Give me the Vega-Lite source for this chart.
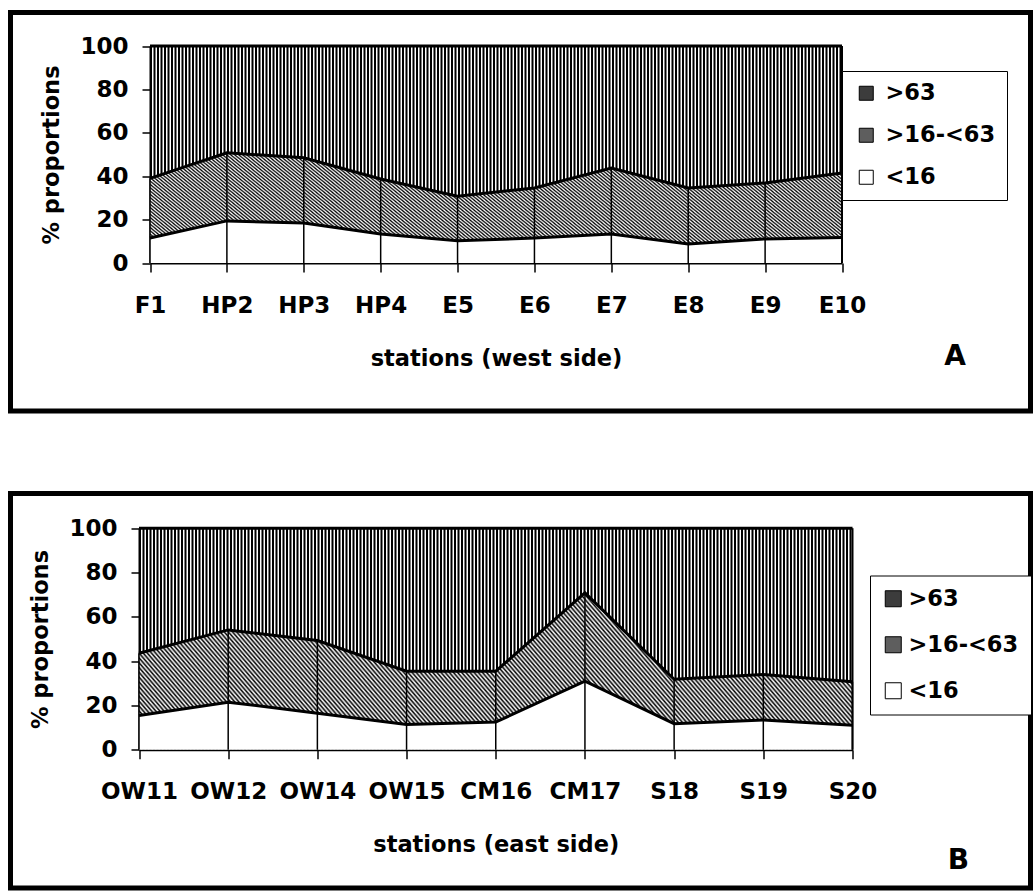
{
  "$schema": "https://vega.github.io/schema/vega-lite/v6.json",
  "background": "white",
  "padding": {"left": 7.5, "top": 9.5, "right": 0, "bottom": 0},
  "bounds": "flush",
  "spacing": 82,
  "resolve": {"scale": {"fill": "independent"}, "legend": {"fill": "independent"}},
  "params": [
    {
      "name": "hatch",
      "value": {
        "gradient": "linear", "x1": 0, "y1": 1, "x2": 1.1305, "y2": 0.8199,
        "stops": [
          {"offset":0,"color":"#000"},{"offset":0.0025,"color":"#fff"},{"offset":0.005,"color":"#000"},{"offset":0.0075,"color":"#fff"},
          {"offset":0.01,"color":"#000"},{"offset":0.0125,"color":"#fff"},{"offset":0.015,"color":"#000"},{"offset":0.0175,"color":"#fff"},
          {"offset":0.02,"color":"#000"},{"offset":0.0225,"color":"#fff"},{"offset":0.025,"color":"#000"},{"offset":0.0275,"color":"#fff"},
          {"offset":0.03,"color":"#000"},{"offset":0.0325,"color":"#fff"},{"offset":0.035,"color":"#000"},{"offset":0.0375,"color":"#fff"},
          {"offset":0.04,"color":"#000"},{"offset":0.0425,"color":"#fff"},{"offset":0.045,"color":"#000"},{"offset":0.0475,"color":"#fff"},
          {"offset":0.05,"color":"#000"},{"offset":0.0525,"color":"#fff"},{"offset":0.055,"color":"#000"},{"offset":0.0575,"color":"#fff"},
          {"offset":0.06,"color":"#000"},{"offset":0.0625,"color":"#fff"},{"offset":0.065,"color":"#000"},{"offset":0.0675,"color":"#fff"},
          {"offset":0.07,"color":"#000"},{"offset":0.0725,"color":"#fff"},{"offset":0.075,"color":"#000"},{"offset":0.0775,"color":"#fff"},
          {"offset":0.08,"color":"#000"},{"offset":0.0825,"color":"#fff"},{"offset":0.085,"color":"#000"},{"offset":0.0875,"color":"#fff"},
          {"offset":0.09,"color":"#000"},{"offset":0.0925,"color":"#fff"},{"offset":0.095,"color":"#000"},{"offset":0.0975,"color":"#fff"},
          {"offset":0.1,"color":"#000"},{"offset":0.1025,"color":"#fff"},{"offset":0.105,"color":"#000"},{"offset":0.1075,"color":"#fff"},
          {"offset":0.11,"color":"#000"},{"offset":0.1125,"color":"#fff"},{"offset":0.115,"color":"#000"},{"offset":0.1175,"color":"#fff"},
          {"offset":0.12,"color":"#000"},{"offset":0.1225,"color":"#fff"},{"offset":0.125,"color":"#000"},{"offset":0.1275,"color":"#fff"},
          {"offset":0.13,"color":"#000"},{"offset":0.1325,"color":"#fff"},{"offset":0.135,"color":"#000"},{"offset":0.1375,"color":"#fff"},
          {"offset":0.14,"color":"#000"},{"offset":0.1425,"color":"#fff"},{"offset":0.145,"color":"#000"},{"offset":0.1475,"color":"#fff"},
          {"offset":0.15,"color":"#000"},{"offset":0.1525,"color":"#fff"},{"offset":0.155,"color":"#000"},{"offset":0.1575,"color":"#fff"},
          {"offset":0.16,"color":"#000"},{"offset":0.1625,"color":"#fff"},{"offset":0.165,"color":"#000"},{"offset":0.1675,"color":"#fff"},
          {"offset":0.17,"color":"#000"},{"offset":0.1725,"color":"#fff"},{"offset":0.175,"color":"#000"},{"offset":0.1775,"color":"#fff"},
          {"offset":0.18,"color":"#000"},{"offset":0.1825,"color":"#fff"},{"offset":0.185,"color":"#000"},{"offset":0.1875,"color":"#fff"},
          {"offset":0.19,"color":"#000"},{"offset":0.1925,"color":"#fff"},{"offset":0.195,"color":"#000"},{"offset":0.1975,"color":"#fff"},
          {"offset":0.2,"color":"#000"},{"offset":0.2025,"color":"#fff"},{"offset":0.205,"color":"#000"},{"offset":0.2075,"color":"#fff"},
          {"offset":0.21,"color":"#000"},{"offset":0.2125,"color":"#fff"},{"offset":0.215,"color":"#000"},{"offset":0.2175,"color":"#fff"},
          {"offset":0.22,"color":"#000"},{"offset":0.2225,"color":"#fff"},{"offset":0.225,"color":"#000"},{"offset":0.2275,"color":"#fff"},
          {"offset":0.23,"color":"#000"},{"offset":0.2325,"color":"#fff"},{"offset":0.235,"color":"#000"},{"offset":0.2375,"color":"#fff"},
          {"offset":0.24,"color":"#000"},{"offset":0.2425,"color":"#fff"},{"offset":0.245,"color":"#000"},{"offset":0.2475,"color":"#fff"},
          {"offset":0.25,"color":"#000"},{"offset":0.2525,"color":"#fff"},{"offset":0.255,"color":"#000"},{"offset":0.2575,"color":"#fff"},
          {"offset":0.26,"color":"#000"},{"offset":0.2625,"color":"#fff"},{"offset":0.265,"color":"#000"},{"offset":0.2675,"color":"#fff"},
          {"offset":0.27,"color":"#000"},{"offset":0.2725,"color":"#fff"},{"offset":0.275,"color":"#000"},{"offset":0.2775,"color":"#fff"},
          {"offset":0.28,"color":"#000"},{"offset":0.2825,"color":"#fff"},{"offset":0.285,"color":"#000"},{"offset":0.2875,"color":"#fff"},
          {"offset":0.29,"color":"#000"},{"offset":0.2925,"color":"#fff"},{"offset":0.295,"color":"#000"},{"offset":0.2975,"color":"#fff"},
          {"offset":0.3,"color":"#000"},{"offset":0.3025,"color":"#fff"},{"offset":0.305,"color":"#000"},{"offset":0.3075,"color":"#fff"},
          {"offset":0.31,"color":"#000"},{"offset":0.3125,"color":"#fff"},{"offset":0.315,"color":"#000"},{"offset":0.3175,"color":"#fff"},
          {"offset":0.32,"color":"#000"},{"offset":0.3225,"color":"#fff"},{"offset":0.325,"color":"#000"},{"offset":0.3275,"color":"#fff"},
          {"offset":0.33,"color":"#000"},{"offset":0.3325,"color":"#fff"},{"offset":0.335,"color":"#000"},{"offset":0.3375,"color":"#fff"},
          {"offset":0.34,"color":"#000"},{"offset":0.3425,"color":"#fff"},{"offset":0.345,"color":"#000"},{"offset":0.3475,"color":"#fff"},
          {"offset":0.35,"color":"#000"},{"offset":0.3525,"color":"#fff"},{"offset":0.355,"color":"#000"},{"offset":0.3575,"color":"#fff"},
          {"offset":0.36,"color":"#000"},{"offset":0.3625,"color":"#fff"},{"offset":0.365,"color":"#000"},{"offset":0.3675,"color":"#fff"},
          {"offset":0.37,"color":"#000"},{"offset":0.3725,"color":"#fff"},{"offset":0.375,"color":"#000"},{"offset":0.3775,"color":"#fff"},
          {"offset":0.38,"color":"#000"},{"offset":0.3825,"color":"#fff"},{"offset":0.385,"color":"#000"},{"offset":0.3875,"color":"#fff"},
          {"offset":0.39,"color":"#000"},{"offset":0.3925,"color":"#fff"},{"offset":0.395,"color":"#000"},{"offset":0.3975,"color":"#fff"},
          {"offset":0.4,"color":"#000"},{"offset":0.4025,"color":"#fff"},{"offset":0.405,"color":"#000"},{"offset":0.4075,"color":"#fff"},
          {"offset":0.41,"color":"#000"},{"offset":0.4125,"color":"#fff"},{"offset":0.415,"color":"#000"},{"offset":0.4175,"color":"#fff"},
          {"offset":0.42,"color":"#000"},{"offset":0.4225,"color":"#fff"},{"offset":0.425,"color":"#000"},{"offset":0.4275,"color":"#fff"},
          {"offset":0.43,"color":"#000"},{"offset":0.4325,"color":"#fff"},{"offset":0.435,"color":"#000"},{"offset":0.4375,"color":"#fff"},
          {"offset":0.44,"color":"#000"},{"offset":0.4425,"color":"#fff"},{"offset":0.445,"color":"#000"},{"offset":0.4475,"color":"#fff"},
          {"offset":0.45,"color":"#000"},{"offset":0.4525,"color":"#fff"},{"offset":0.455,"color":"#000"},{"offset":0.4575,"color":"#fff"},
          {"offset":0.46,"color":"#000"},{"offset":0.4625,"color":"#fff"},{"offset":0.465,"color":"#000"},{"offset":0.4675,"color":"#fff"},
          {"offset":0.47,"color":"#000"},{"offset":0.4725,"color":"#fff"},{"offset":0.475,"color":"#000"},{"offset":0.4775,"color":"#fff"},
          {"offset":0.48,"color":"#000"},{"offset":0.4825,"color":"#fff"},{"offset":0.485,"color":"#000"},{"offset":0.4875,"color":"#fff"},
          {"offset":0.49,"color":"#000"},{"offset":0.4925,"color":"#fff"},{"offset":0.495,"color":"#000"},{"offset":0.4975,"color":"#fff"},
          {"offset":0.5,"color":"#000"},{"offset":0.5025,"color":"#fff"},{"offset":0.505,"color":"#000"},{"offset":0.5075,"color":"#fff"},
          {"offset":0.51,"color":"#000"},{"offset":0.5125,"color":"#fff"},{"offset":0.515,"color":"#000"},{"offset":0.5175,"color":"#fff"},
          {"offset":0.52,"color":"#000"},{"offset":0.5225,"color":"#fff"},{"offset":0.525,"color":"#000"},{"offset":0.5275,"color":"#fff"},
          {"offset":0.53,"color":"#000"},{"offset":0.5325,"color":"#fff"},{"offset":0.535,"color":"#000"},{"offset":0.5375,"color":"#fff"},
          {"offset":0.54,"color":"#000"},{"offset":0.5425,"color":"#fff"},{"offset":0.545,"color":"#000"},{"offset":0.5475,"color":"#fff"},
          {"offset":0.55,"color":"#000"},{"offset":0.5525,"color":"#fff"},{"offset":0.555,"color":"#000"},{"offset":0.5575,"color":"#fff"},
          {"offset":0.56,"color":"#000"},{"offset":0.5625,"color":"#fff"},{"offset":0.565,"color":"#000"},{"offset":0.5675,"color":"#fff"},
          {"offset":0.57,"color":"#000"},{"offset":0.5725,"color":"#fff"},{"offset":0.575,"color":"#000"},{"offset":0.5775,"color":"#fff"},
          {"offset":0.58,"color":"#000"},{"offset":0.5825,"color":"#fff"},{"offset":0.585,"color":"#000"},{"offset":0.5875,"color":"#fff"},
          {"offset":0.59,"color":"#000"},{"offset":0.5925,"color":"#fff"},{"offset":0.595,"color":"#000"},{"offset":0.5975,"color":"#fff"},
          {"offset":0.6,"color":"#000"},{"offset":0.6025,"color":"#fff"},{"offset":0.605,"color":"#000"},{"offset":0.6075,"color":"#fff"},
          {"offset":0.61,"color":"#000"},{"offset":0.6125,"color":"#fff"},{"offset":0.615,"color":"#000"},{"offset":0.6175,"color":"#fff"},
          {"offset":0.62,"color":"#000"},{"offset":0.6225,"color":"#fff"},{"offset":0.625,"color":"#000"},{"offset":0.6275,"color":"#fff"},
          {"offset":0.63,"color":"#000"},{"offset":0.6325,"color":"#fff"},{"offset":0.635,"color":"#000"},{"offset":0.6375,"color":"#fff"},
          {"offset":0.64,"color":"#000"},{"offset":0.6425,"color":"#fff"},{"offset":0.645,"color":"#000"},{"offset":0.6475,"color":"#fff"},
          {"offset":0.65,"color":"#000"},{"offset":0.6525,"color":"#fff"},{"offset":0.655,"color":"#000"},{"offset":0.6575,"color":"#fff"},
          {"offset":0.66,"color":"#000"},{"offset":0.6625,"color":"#fff"},{"offset":0.665,"color":"#000"},{"offset":0.6675,"color":"#fff"},
          {"offset":0.67,"color":"#000"},{"offset":0.6725,"color":"#fff"},{"offset":0.675,"color":"#000"},{"offset":0.6775,"color":"#fff"},
          {"offset":0.68,"color":"#000"},{"offset":0.6825,"color":"#fff"},{"offset":0.685,"color":"#000"},{"offset":0.6875,"color":"#fff"},
          {"offset":0.69,"color":"#000"},{"offset":0.6925,"color":"#fff"},{"offset":0.695,"color":"#000"},{"offset":0.6975,"color":"#fff"},
          {"offset":0.7,"color":"#000"},{"offset":0.7025,"color":"#fff"},{"offset":0.705,"color":"#000"},{"offset":0.7075,"color":"#fff"},
          {"offset":0.71,"color":"#000"},{"offset":0.7125,"color":"#fff"},{"offset":0.715,"color":"#000"},{"offset":0.7175,"color":"#fff"},
          {"offset":0.72,"color":"#000"},{"offset":0.7225,"color":"#fff"},{"offset":0.725,"color":"#000"},{"offset":0.7275,"color":"#fff"},
          {"offset":0.73,"color":"#000"},{"offset":0.7325,"color":"#fff"},{"offset":0.735,"color":"#000"},{"offset":0.7375,"color":"#fff"},
          {"offset":0.74,"color":"#000"},{"offset":0.7425,"color":"#fff"},{"offset":0.745,"color":"#000"},{"offset":0.7475,"color":"#fff"},
          {"offset":0.75,"color":"#000"},{"offset":0.7525,"color":"#fff"},{"offset":0.755,"color":"#000"},{"offset":0.7575,"color":"#fff"},
          {"offset":0.76,"color":"#000"},{"offset":0.7625,"color":"#fff"},{"offset":0.765,"color":"#000"},{"offset":0.7675,"color":"#fff"},
          {"offset":0.77,"color":"#000"},{"offset":0.7725,"color":"#fff"},{"offset":0.775,"color":"#000"},{"offset":0.7775,"color":"#fff"},
          {"offset":0.78,"color":"#000"},{"offset":0.7825,"color":"#fff"},{"offset":0.785,"color":"#000"},{"offset":0.7875,"color":"#fff"},
          {"offset":0.79,"color":"#000"},{"offset":0.7925,"color":"#fff"},{"offset":0.795,"color":"#000"},{"offset":0.7975,"color":"#fff"},
          {"offset":0.8,"color":"#000"},{"offset":0.8025,"color":"#fff"},{"offset":0.805,"color":"#000"},{"offset":0.8075,"color":"#fff"},
          {"offset":0.81,"color":"#000"},{"offset":0.8125,"color":"#fff"},{"offset":0.815,"color":"#000"},{"offset":0.8175,"color":"#fff"},
          {"offset":0.82,"color":"#000"},{"offset":0.8225,"color":"#fff"},{"offset":0.825,"color":"#000"},{"offset":0.8275,"color":"#fff"},
          {"offset":0.83,"color":"#000"},{"offset":0.8325,"color":"#fff"},{"offset":0.835,"color":"#000"},{"offset":0.8375,"color":"#fff"},
          {"offset":0.84,"color":"#000"},{"offset":0.8425,"color":"#fff"},{"offset":0.845,"color":"#000"},{"offset":0.8475,"color":"#fff"},
          {"offset":0.85,"color":"#000"},{"offset":0.8525,"color":"#fff"},{"offset":0.855,"color":"#000"},{"offset":0.8575,"color":"#fff"},
          {"offset":0.86,"color":"#000"},{"offset":0.8625,"color":"#fff"},{"offset":0.865,"color":"#000"},{"offset":0.8675,"color":"#fff"},
          {"offset":0.87,"color":"#000"},{"offset":0.8725,"color":"#fff"},{"offset":0.875,"color":"#000"},{"offset":0.8775,"color":"#fff"},
          {"offset":0.88,"color":"#000"},{"offset":0.8825,"color":"#fff"},{"offset":0.885,"color":"#000"},{"offset":0.8875,"color":"#fff"},
          {"offset":0.89,"color":"#000"},{"offset":0.8925,"color":"#fff"},{"offset":0.895,"color":"#000"},{"offset":0.8975,"color":"#fff"},
          {"offset":0.9,"color":"#000"},{"offset":0.9025,"color":"#fff"},{"offset":0.905,"color":"#000"},{"offset":0.9075,"color":"#fff"},
          {"offset":0.91,"color":"#000"},{"offset":0.9125,"color":"#fff"},{"offset":0.915,"color":"#000"},{"offset":0.9175,"color":"#fff"},
          {"offset":0.92,"color":"#000"},{"offset":0.9225,"color":"#fff"},{"offset":0.925,"color":"#000"},{"offset":0.9275,"color":"#fff"},
          {"offset":0.93,"color":"#000"},{"offset":0.9325,"color":"#fff"},{"offset":0.935,"color":"#000"},{"offset":0.9375,"color":"#fff"},
          {"offset":0.94,"color":"#000"},{"offset":0.9425,"color":"#fff"},{"offset":0.945,"color":"#000"},{"offset":0.9475,"color":"#fff"},
          {"offset":0.95,"color":"#000"},{"offset":0.9525,"color":"#fff"},{"offset":0.955,"color":"#000"},{"offset":0.9575,"color":"#fff"},
          {"offset":0.96,"color":"#000"},{"offset":0.9625,"color":"#fff"},{"offset":0.965,"color":"#000"},{"offset":0.9675,"color":"#fff"},
          {"offset":0.97,"color":"#000"},{"offset":0.9725,"color":"#fff"},{"offset":0.975,"color":"#000"},{"offset":0.9775,"color":"#fff"},
          {"offset":0.98,"color":"#000"},{"offset":0.9825,"color":"#fff"},{"offset":0.985,"color":"#000"},{"offset":0.9875,"color":"#fff"},
          {"offset":0.99,"color":"#000"},{"offset":0.9925,"color":"#fff"},{"offset":0.995,"color":"#000"},{"offset":0.9975,"color":"#fff"},
          {"offset":1,"color":"#000"}
        ]
      }
    }
  ],
  "datasets": {
    "west": [
      {"station": "F1", "cls": "<16", "pct": 11.5}, {"station": "F1", "cls": ">16-<63", "pct": 27.5}, {"station": "F1", "cls": ">63", "pct": 61.0},
      {"station": "HP2", "cls": "<16", "pct": 19.4}, {"station": "HP2", "cls": ">16-<63", "pct": 31.4}, {"station": "HP2", "cls": ">63", "pct": 49.2},
      {"station": "HP3", "cls": "<16", "pct": 18.4}, {"station": "HP3", "cls": ">16-<63", "pct": 30.1}, {"station": "HP3", "cls": ">63", "pct": 51.5},
      {"station": "HP4", "cls": "<16", "pct": 13.4}, {"station": "HP4", "cls": ">16-<63", "pct": 25.3}, {"station": "HP4", "cls": ">63", "pct": 61.3},
      {"station": "E5", "cls": "<16", "pct": 10.2}, {"station": "E5", "cls": ">16-<63", "pct": 20.6}, {"station": "E5", "cls": ">63", "pct": 69.2},
      {"station": "E6", "cls": "<16", "pct": 11.5}, {"station": "E6", "cls": ">16-<63", "pct": 23.1}, {"station": "E6", "cls": ">63", "pct": 65.4},
      {"station": "E7", "cls": "<16", "pct": 13.4}, {"station": "E7", "cls": ">16-<63", "pct": 30.4}, {"station": "E7", "cls": ">63", "pct": 56.2},
      {"station": "E8", "cls": "<16", "pct": 8.8}, {"station": "E8", "cls": ">16-<63", "pct": 25.8}, {"station": "E8", "cls": ">63", "pct": 65.4},
      {"station": "E9", "cls": "<16", "pct": 11.1}, {"station": "E9", "cls": ">16-<63", "pct": 25.8}, {"station": "E9", "cls": ">63", "pct": 63.1},
      {"station": "E10", "cls": "<16", "pct": 11.8}, {"station": "E10", "cls": ">16-<63", "pct": 29.7}, {"station": "E10", "cls": ">63", "pct": 58.5}
    ],
    "east": [
      {"station": "OW11", "cls": "<16", "pct": 15.5}, {"station": "OW11", "cls": ">16-<63", "pct": 28.1}, {"station": "OW11", "cls": ">63", "pct": 56.4},
      {"station": "OW12", "cls": "<16", "pct": 21.5}, {"station": "OW12", "cls": ">16-<63", "pct": 32.6}, {"station": "OW12", "cls": ">63", "pct": 45.9},
      {"station": "OW14", "cls": "<16", "pct": 16.5}, {"station": "OW14", "cls": ">16-<63", "pct": 32.8}, {"station": "OW14", "cls": ">63", "pct": 50.7},
      {"station": "OW15", "cls": "<16", "pct": 11.4}, {"station": "OW15", "cls": ">16-<63", "pct": 24.1}, {"station": "OW15", "cls": ">63", "pct": 64.5},
      {"station": "CM16", "cls": "<16", "pct": 12.5}, {"station": "CM16", "cls": ">16-<63", "pct": 23.0}, {"station": "CM16", "cls": ">63", "pct": 64.5},
      {"station": "CM17", "cls": "<16", "pct": 31.0}, {"station": "CM17", "cls": ">16-<63", "pct": 39.8}, {"station": "CM17", "cls": ">63", "pct": 29.2},
      {"station": "S18", "cls": "<16", "pct": 11.8}, {"station": "S18", "cls": ">16-<63", "pct": 20.0}, {"station": "S18", "cls": ">63", "pct": 68.2},
      {"station": "S19", "cls": "<16", "pct": 13.5}, {"station": "S19", "cls": ">16-<63", "pct": 20.5}, {"station": "S19", "cls": ">63", "pct": 66.0},
      {"station": "S20", "cls": "<16", "pct": 11.1}, {"station": "S20", "cls": ">16-<63", "pct": 19.6}, {"station": "S20", "cls": ">63", "pct": 69.3}
    ]
  },
  "vconcat": [
    {
      "width": 1020,
      "height": 398.5,
      "data": {"name": "west"},
      "title": {"text": "A", "orient": "bottom", "anchor": "end", "baseline": "top", "offset": -67.7, "dx": -64.5},
      "layer": [
        {
          "transform": [{"filter": "datum.station === 'F1' && datum.cls === '<16'"}],
          "mark": {"type": "rule", "color": "black", "strokeWidth": 217, "strokeDash": [2.0, 1.5], "strokeCap": "butt"},
          "encoding": {
            "x": {"datum": "F1", "type": "nominal"},
            "x2": {"datum": "E10"},
            "y": {"datum": 50, "type": "quantitative"}
          }
        },
        {
          "transform": [{"stack": "pct", "groupby": ["station"], "sort": [{"field": "cls", "order": "ascending"}], "as": ["y0", "y1"]}],
          "mark": {"type": "area", "fillOpacity": 0},
          "encoding": {
            "x": {"field": "station", "type": "nominal", "sort": ["F1", "HP2", "HP3", "HP4", "E5", "E6", "E7", "E8", "E9", "E10"],
                  "scale": {"type": "point", "domain": ["F1", "HP2", "HP3", "HP4", "E5", "E6", "E7", "E8", "E9", "E10"], "range": [139.5, 831.5], "padding": 0},
                  "axis": {"title": "stations (west side)", "offset": -148, "labelOverlap": false}},
            "y": {"field": "y1", "type": "quantitative", "scale": {"domain": [0, 100], "range": [250.5, 33.5], "nice": false},
                  "axis": {"title": "% proportions", "offset": -139.5, "values": [0, 20, 40, 60, 80, 100], "labelOverlap": false}},
            "y2": {"field": "y0"},
            "fill": {"field": "cls", "type": "nominal",
                     "scale": {"domain": [">63", ">16-<63", "<16"], "range": ["#3c3c3c", "#5e5e5e", "#ffffff"]},
                     "legend": {"orient": "none", "legendX": 831.5, "legendY": 58.5, "title": null, "direction": "vertical",
                                "symbolType": "square", "symbolSize": 196, "symbolStrokeColor": "black", "symbolStrokeWidth": 1,
                                "symbolOffset": 2, "labelOffset": 8, "padding": 11, "rowPadding": 19,
                                "strokeColor": "black", "fillColor": "white"}}
          }
        },
        {
          "transform": [{"stack": "pct", "groupby": ["station"], "sort": [{"field": "cls", "order": "ascending"}], "as": ["y0", "y1"]},
                        {"filter": "datum.cls === '>16-<63'"}],
          "mark": {"type": "area", "fill": {"expr": "hatch"}},
          "encoding": {
            "x": {"field": "station", "type": "nominal", "sort": ["F1", "HP2", "HP3", "HP4", "E5", "E6", "E7", "E8", "E9", "E10"]},
            "y": {"field": "y1", "type": "quantitative"},
            "y2": {"field": "y0"}
          }
        },
        {
          "transform": [{"stack": "pct", "groupby": ["station"], "sort": [{"field": "cls", "order": "ascending"}], "as": ["y0", "y1"]},
                        {"filter": "datum.cls === '<16'"}],
          "mark": {"type": "area", "fill": "white"},
          "encoding": {
            "x": {"field": "station", "type": "nominal", "sort": ["F1", "HP2", "HP3", "HP4", "E5", "E6", "E7", "E8", "E9", "E10"]},
            "y": {"field": "y1", "type": "quantitative"},
            "y2": {"field": "y0"}
          }
        },
        {
          "transform": [{"stack": "pct", "groupby": ["station"], "sort": [{"field": "cls", "order": "ascending"}], "as": ["y0", "y1"]}],
          "mark": {"type": "line", "color": "black", "strokeWidth": 3},
          "encoding": {
            "x": {"field": "station", "type": "nominal", "sort": ["F1", "HP2", "HP3", "HP4", "E5", "E6", "E7", "E8", "E9", "E10"]},
            "y": {"field": "y1", "type": "quantitative"},
            "detail": {"field": "cls", "type": "nominal"}
          }
        },
        {
          "transform": [{"stack": "pct", "groupby": ["station"], "sort": [{"field": "cls", "order": "ascending"}], "as": ["y0", "y1"]},
                        {"filter": "datum.cls === '>16-<63'"}],
          "mark": {"type": "rule", "color": "black", "strokeWidth": 1.5},
          "encoding": {
            "x": {"field": "station", "type": "nominal"},
            "y": {"field": "y1", "type": "quantitative"},
            "y2": {"datum": 0}
          }
        },
        {
          "transform": [{"filter": "datum.station === 'E10' && datum.cls === '<16'"}],
          "mark": {"type": "rule", "color": "black", "strokeWidth": 2},
          "encoding": {
            "x": {"field": "station", "type": "nominal"},
            "y": {"datum": 0, "type": "quantitative"},
            "y2": {"datum": 100}
          }
        }
      ]
    },
    {
      "width": 1020,
      "height": 394.5,
      "data": {"name": "east"},
      "title": {"text": "B", "orient": "bottom", "anchor": "end", "baseline": "top", "offset": -41.2, "dx": -62.5},
      "layer": [
        {
          "transform": [{"filter": "datum.station === 'OW11' && datum.cls === '<16'"}],
          "mark": {"type": "rule", "color": "black", "strokeWidth": 221.6, "strokeDash": [2.0, 1.5], "strokeCap": "butt"},
          "encoding": {
            "x": {"datum": "OW11", "type": "nominal"},
            "x2": {"datum": "S20"},
            "y": {"datum": 50, "type": "quantitative"}
          }
        },
        {
          "transform": [{"stack": "pct", "groupby": ["station"], "sort": [{"field": "cls", "order": "ascending"}], "as": ["y0", "y1"]}],
          "mark": {"type": "area", "fillOpacity": 0},
          "encoding": {
            "x": {"field": "station", "type": "nominal", "sort": ["OW11", "OW12", "OW14", "OW15", "CM16", "CM17", "S18", "S19", "S20"],
                  "scale": {"type": "point", "domain": ["OW11", "OW12", "OW14", "OW15", "CM16", "CM17", "S18", "S19", "S20"], "range": [128.5, 842], "padding": 0},
                  "axis": {"title": "stations (east side)", "offset": -138.2, "labelOverlap": false}},
            "y": {"field": "y1", "type": "quantitative", "scale": {"domain": [0, 100], "range": [256.3, 34.7], "nice": false},
                  "axis": {"title": "% proportions", "offset": -128.5, "values": [0, 20, 40, 60, 80, 100], "labelOverlap": false}},
            "y2": {"field": "y0"},
            "fill": {"field": "cls", "type": "nominal",
                     "scale": {"domain": [">63", ">16-<63", "<16"], "range": ["#3c3c3c", "#5e5e5e", "#ffffff"]},
                     "legend": {"orient": "none", "legendX": 859.5, "legendY": 82, "title": null, "direction": "vertical",
                                "symbolType": "square", "symbolSize": 256, "symbolStrokeColor": "black", "symbolStrokeWidth": 1,
                                "symbolOffset": 0, "labelOffset": 4, "padding": 12, "rowPadding": 23,
                                "strokeColor": "black", "fillColor": "white"}}
          }
        },
        {
          "transform": [{"stack": "pct", "groupby": ["station"], "sort": [{"field": "cls", "order": "ascending"}], "as": ["y0", "y1"]},
                        {"filter": "datum.cls === '>16-<63'"}],
          "mark": {"type": "area", "fill": {"expr": "hatch"}},
          "encoding": {
            "x": {"field": "station", "type": "nominal", "sort": ["OW11", "OW12", "OW14", "OW15", "CM16", "CM17", "S18", "S19", "S20"]},
            "y": {"field": "y1", "type": "quantitative"},
            "y2": {"field": "y0"}
          }
        },
        {
          "transform": [{"stack": "pct", "groupby": ["station"], "sort": [{"field": "cls", "order": "ascending"}], "as": ["y0", "y1"]},
                        {"filter": "datum.cls === '<16'"}],
          "mark": {"type": "area", "fill": "white"},
          "encoding": {
            "x": {"field": "station", "type": "nominal", "sort": ["OW11", "OW12", "OW14", "OW15", "CM16", "CM17", "S18", "S19", "S20"]},
            "y": {"field": "y1", "type": "quantitative"},
            "y2": {"field": "y0"}
          }
        },
        {
          "transform": [{"stack": "pct", "groupby": ["station"], "sort": [{"field": "cls", "order": "ascending"}], "as": ["y0", "y1"]}],
          "mark": {"type": "line", "color": "black", "strokeWidth": 3},
          "encoding": {
            "x": {"field": "station", "type": "nominal", "sort": ["OW11", "OW12", "OW14", "OW15", "CM16", "CM17", "S18", "S19", "S20"]},
            "y": {"field": "y1", "type": "quantitative"},
            "detail": {"field": "cls", "type": "nominal"}
          }
        },
        {
          "transform": [{"stack": "pct", "groupby": ["station"], "sort": [{"field": "cls", "order": "ascending"}], "as": ["y0", "y1"]},
                        {"filter": "datum.cls === '>16-<63'"}],
          "mark": {"type": "rule", "color": "black", "strokeWidth": 1.5},
          "encoding": {
            "x": {"field": "station", "type": "nominal"},
            "y": {"field": "y1", "type": "quantitative"},
            "y2": {"datum": 0}
          }
        },
        {
          "transform": [{"filter": "datum.station === 'S20' && datum.cls === '<16'"}],
          "mark": {"type": "rule", "color": "black", "strokeWidth": 2},
          "encoding": {
            "x": {"field": "station", "type": "nominal"},
            "y": {"datum": 0, "type": "quantitative"},
            "y2": {"datum": 100}
          }
        }
      ]
    }
  ],
  "config": {
    "font": "DejaVu Sans",
    "view": {"stroke": "black", "strokeWidth": 5},
    "axis": {"domainColor": "black", "domainWidth": 2, "tickColor": "black", "tickWidth": 1.5,
             "labelColor": "black", "labelFont": "DejaVu Sans", "labelFontSize": 23, "labelFontWeight": "bold",
             "titleColor": "black", "titleFont": "DejaVu Sans", "titleFontSize": 22.5, "titleFontWeight": "bold",
             "grid": false, "zindex": 1},
    "axisX": {"tickSize": 9, "labelPadding": 22, "titlePadding": 30, "labelAngle": 0},
    "axisY": {"tickSize": 8, "labelPadding": 14, "titlePadding": 16},
    "legend": {"labelFont": "DejaVu Sans", "labelFontSize": 22.5, "labelFontWeight": "bold", "labelColor": "black", "labelLimit": 400},
    "title": {"font": "DejaVu Sans", "fontSize": 28, "fontWeight": "bold", "color": "black"}
  }
}
